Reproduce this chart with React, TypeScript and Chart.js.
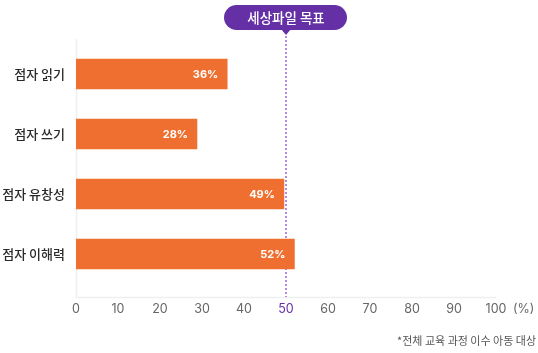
import React, { useEffect, useRef } from "react";
import { Chart, registerables } from "chart.js";

Chart.register(...registerables);

const categories = ["점자 읽기", "점자 쓰기", "점자 유창성", "점자 이해력"];
const values = [36, 28.8, 49.5, 52];
const valueLabels = ["36%", "28%", "49%", "52%"];
const targetValue = 50;
const targetLabel = "세상파일 목표";
const xTicks = [0, 10, 20, 30, 40, 50, 60, 70, 80, 90, 100];
const unitLabel = "(%)";
const footnote = "*전체 교육 과정 이수 아동 대상";

const BAR = "#EE6F2F";
const PURPLE = "#6530A6";
const DOT = "#B08BE0";
const LINE = "#EFEFEF";
const KFONT = "'Noto Sans CJK KR', 'Noto Sans', sans-serif";
const NFONT = "Inter, Roboto, 'Noto Sans', sans-serif";

export default function App() {
  const ref = useRef<HTMLCanvasElement | null>(null);

  useEffect(() => {
    document.body.style.margin = "0";
    const canvas = ref.current;
    if (!canvas) return;

    const overlay = {
      id: "overlay",
      beforeDatasetsDraw(chart: any) {
        const ctx = chart.ctx;
        const { left, top, bottom } = chart.chartArea;
        const xs = chart.scales.x;
        const tx = Math.round(xs.getPixelForValue(targetValue));
        ctx.save();
        ctx.strokeStyle = LINE;
        ctx.lineWidth = 1.5;
        ctx.beginPath();
        ctx.moveTo(left + 0.5, top - 5);
        ctx.lineTo(left + 0.5, bottom + 13.5);
        ctx.lineTo(xs.getPixelForValue(100), bottom + 13.5);
        ctx.stroke();

        ctx.strokeStyle = DOT;
        ctx.lineWidth = 2;
        ctx.setLineDash([2, 2]);
        ctx.beginPath();
        ctx.moveTo(tx, top - 8);
        ctx.lineTo(tx, bottom + 13);
        ctx.stroke();
        ctx.setLineDash([]);
        ctx.restore();
      },
      afterDatasetsDraw(chart: any) {
        const ctx = chart.ctx;
        const { bottom } = chart.chartArea;
        const xs = chart.scales.x;
        const tx = Math.round(xs.getPixelForValue(targetValue));
        ctx.save();

        const meta = chart.getDatasetMeta(0);
        ctx.fillStyle = "#FFFFFF";
        ctx.font = `bold 11px ${NFONT}`;
        ctx.textAlign = "right";
        ctx.textBaseline = "middle";
        meta.data.forEach((el: any, i: number) => {
          ctx.fillText(valueLabels[i], el.x - 9, el.y + 1);
        });

        const bw = 123, bh = 25, by = 5;
        const bx = tx - 62;
        ctx.fillStyle = PURPLE;
        ctx.beginPath();
        (ctx as any).roundRect(bx, by, bw, bh, 12.5);
        ctx.fill();
        ctx.beginPath();
        ctx.moveTo(tx - 5, by + bh - 1);
        ctx.lineTo(tx + 5, by + bh - 1);
        ctx.lineTo(tx, by + bh + 5);
        ctx.closePath();
        ctx.fill();
        ctx.fillStyle = "#FFFFFF";
        ctx.font = `500 13.5px ${KFONT}`;
        ctx.textAlign = "center";
        ctx.textBaseline = "middle";
        ctx.fillText(targetLabel, tx, by + bh / 2 + 0.5);

        ctx.fillStyle = "#666666";
        ctx.font = `12.5px ${NFONT}`;
        ctx.textAlign = "left";
        ctx.fillText(unitLabel, xs.getPixelForValue(100) + 17, bottom + 25);

        ctx.fillStyle = "#555555";
        ctx.font = `11px ${KFONT}`;
        ctx.textAlign = "right";
        ctx.fillText(footnote, 536, 341);
        ctx.restore();
      },
    };

    const chart = new Chart(canvas, {
      type: "bar",
      data: {
        labels: categories,
        datasets: [
          {
            data: values,
            backgroundColor: BAR,
            barThickness: 30,
            borderWidth: 0,
          },
        ],
      },
      options: {
        indexAxis: "y",
        animation: false,
        responsive: false,
        maintainAspectRatio: false,
        layout: { padding: { left: 0, right: 42, top: 44, bottom: 0 } },
        plugins: {
          legend: { display: false },
          tooltip: { enabled: false },
          title: { display: false },
        },
        scales: {
          x: {
            type: "linear",
            min: 0,
            max: 100,
            grid: { display: false, drawTicks: false },
            border: { display: false },
            afterFit(scale: any) {
              scale.height = 69;
            },
            afterBuildTicks(scale: any) {
              scale.ticks = xTicks.map((v) => ({ value: v }));
            },
            ticks: {
              padding: 18,
              font: { family: NFONT, size: 12.5 },
              color: (c: any) => (c.tick && c.tick.value === targetValue ? PURPLE : "#666666"),
              maxRotation: 0,
              autoSkip: false,
            },
          },
          y: {
            grid: { display: false, drawTicks: false },
            border: { display: false },
            afterFit(scale: any) {
              scale.width = 76;
            },
            ticks: {
              padding: 11,
              font: { family: KFONT, size: 13, weight: "500" as any },
              color: "#2A2A2A",
            },
          },
        },
      },
      plugins: [overlay],
    } as any);

    return () => chart.destroy();
  }, []);

  return (
    <div style={{ width: 538, height: 353 }}>
      <canvas ref={ref} width={538} height={353} style={{ display: "block" }} />
    </div>
  );
}
